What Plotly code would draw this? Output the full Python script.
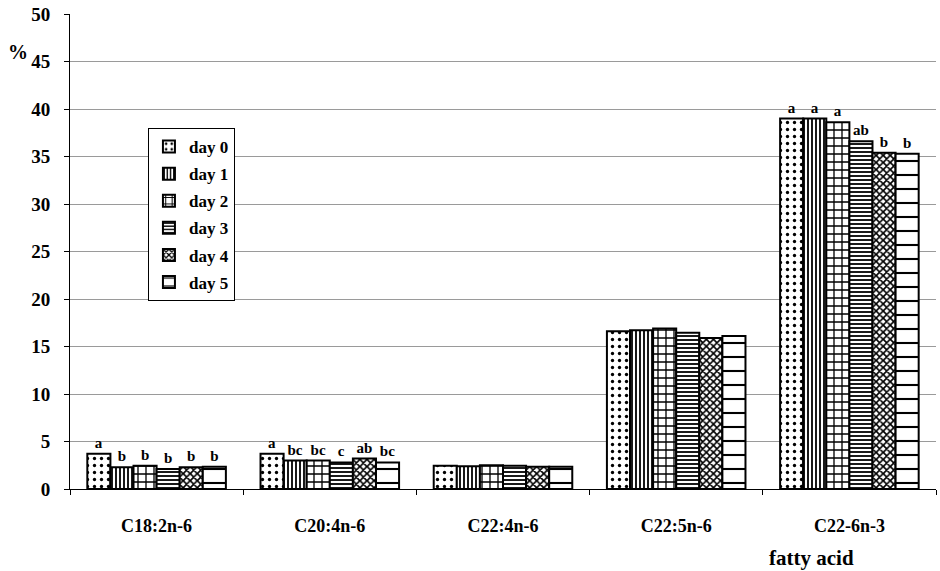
import plotly.graph_objects as go

# Fatty acid composition (%) by day of storage
categories = ["C18:2n-6", "C20:4n-6", "C22:4n-6", "C22:5n-6", "C22-6n-3"]
days = ["day 0", "day 1", "day 2", "day 3", "day 4", "day 5"]

values = {
    "day 0": [3.7, 3.7, 2.45, 16.6, 39.0],
    "day 1": [2.3, 3.0, 2.4, 16.7, 39.0],
    "day 2": [2.45, 3.0, 2.5, 16.9, 38.6],
    "day 3": [2.1, 2.8, 2.45, 16.45, 36.6],
    "day 4": [2.3, 3.2, 2.35, 15.9, 35.4],
    "day 5": [2.35, 2.8, 2.35, 16.1, 35.3],
}

# Significance letters per bar (blank where none shown)
letters = {
    "day 0": ["a", "a", "", "", "a"],
    "day 1": ["b", "bc", "", "", "a"],
    "day 2": ["b", "bc", "", "", "a"],
    "day 3": ["b", "c", "", "", "ab"],
    "day 4": ["b", "ab", "", "", "b"],
    "day 5": ["b", "bc", "", "", "b"],
}

y_ticks = list(range(0, 51, 5))

patterns = {
    "day 0": dict(shape=".", size=7, solidity=0.18),
    "day 1": dict(shape="|", size=4, solidity=0.45),
    "day 2": dict(shape="+", size=8, solidity=0.3),
    "day 3": dict(shape="-", size=4, solidity=0.45),
    "day 4": dict(shape="x", size=5, solidity=0.55),
    "day 5": dict(shape="-", size=14, solidity=0.15),
}

FONT = "Liberation Serif"

fig = go.Figure()
for d in days:
    p = patterns[d]
    fig.add_trace(go.Bar(
        name=d,
        x=categories,
        y=values[d],
        text=letters[d],
        textposition="outside",
        constraintext="none",
        cliponaxis=False,
        textfont=dict(family=FONT, size=15, color="black", weight="bold"),
        marker=dict(
            color="white",
            line=dict(color="black", width=2),
            pattern=dict(shape=p["shape"], size=p["size"], solidity=p["solidity"],
                         fgcolor="black", bgcolor="white", fillmode="replace"),
        ),
        legendgroup=d,
    ))

fig.update_layout(
    width=940,
    height=571,
    margin=dict(l=70, r=4, t=14, b=82),
    paper_bgcolor="white",
    plot_bgcolor="white",
    barmode="group",
    bargap=0.2,
    bargroupgap=0,
    font=dict(family=FONT, size=16, color="black", weight="bold"),
    showlegend=True,
    legend=dict(
        x=0.09, y=0.76, xanchor="left", yanchor="top",
        bgcolor="white", bordercolor="black", borderwidth=1,
        font=dict(family=FONT, size=17, color="black", weight="bold"),
        tracegroupgap=2,
        itemwidth=30,
    ),
    xaxis=dict(
        showline=True, linecolor="black", linewidth=1,
        ticks="outside", ticklen=5, tickcolor="black",
        tickson="boundaries",
        showgrid=False,
        ticklabelstandoff=20,
        tickfont=dict(family=FONT, size=18, color="black", weight="bold"),
    ),
    yaxis=dict(
        range=[0, 50],
        tickvals=y_ticks,
        showline=True, linecolor="black", linewidth=1,
        ticks="outside", ticklen=5, tickcolor="black",
        showgrid=True, gridcolor="#9a9a9a", gridwidth=1,
        zeroline=False,
        ticklabelstandoff=10,
        tickfont=dict(family=FONT, size=19, color="black", weight="bold"),
    ),
    annotations=[
        dict(text="%", xref="paper", yref="paper", x=-0.06, y=0.92,
             showarrow=False, xanchor="center", yanchor="middle",
             font=dict(family=FONT, size=20, color="black", weight="bold")),
        dict(text="fatty acid", xref="paper", yref="paper", x=0.856, y=-0.145,
             showarrow=False, xanchor="center", yanchor="middle",
             font=dict(family=FONT, size=21, color="black", weight="bold")),
    ],
)

fig.write_html("out.html")
